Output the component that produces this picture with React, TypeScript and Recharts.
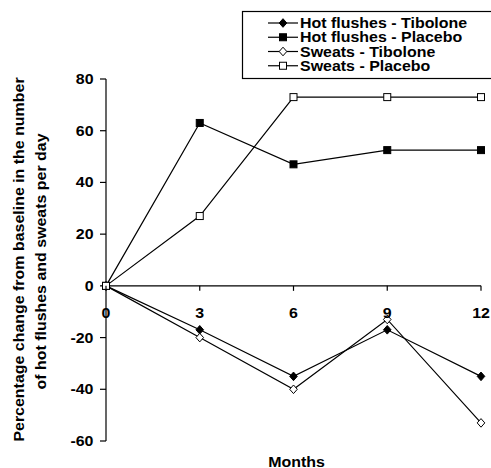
import React from "react";
import { LineChart, Line, XAxis, YAxis, ReferenceLine } from "recharts";

const months = [0, 3, 6, 9, 12];
const hotFlushesTibolone = [0, -17, -35, -17, -35];
const hotFlushesPlacebo = [0, 63, 47, 52.5, 52.5];
const sweatsTibolone = [0, -20, -40, -13, -53];
const sweatsPlacebo = [0, 27, 73, 73, 73];
const yTicks = [-60, -40, -20, 0, 20, 40, 60, 80];

const W = 491;
const H = 468;
const TOP = 79;
const XAXIS_H = 27;
const PLOT_H = H - TOP - XAXIS_H;
const Y_MIN = -60;
const Y_MAX = 80;
const ZERO_Y = TOP + (PLOT_H * Y_MAX) / (Y_MAX - Y_MIN);

// the source figure is Arial bold, stretched sideways a little
const FONT = "'Liberation Sans', Arial, sans-serif";
const FS = 14;
const STRETCH = 1.14;

const series = [
  { key: "hft", name: "Hot flushes - Tibolone", values: hotFlushesTibolone, shape: "diamond", filled: true },
  { key: "hfp", name: "Hot flushes - Placebo", values: hotFlushesPlacebo, shape: "square", filled: true },
  { key: "swt", name: "Sweats - Tibolone", values: sweatsTibolone, shape: "diamond", filled: false },
  { key: "swp", name: "Sweats - Placebo", values: sweatsPlacebo, shape: "square", filled: false },
];

const data = months.map((m, i) => {
  const row: Record<string, number> = { month: m };
  series.forEach((s) => (row[s.key] = s.values[i]));
  return row;
});

function Txt(props: any) {
  const { x, y, rotate = 0, anchor = "start", children } = props;
  return (
    <text
      transform={`translate(${x} ${y}) rotate(${rotate}) scale(${STRETCH} 1)`}
      textAnchor={anchor}
      fontFamily={FONT}
      fontSize={FS}
      fontWeight="bold"
      fill="#000"
    >
      {children}
    </text>
  );
}

function Marker(props: any) {
  const { cx, cy, shape, filled } = props;
  if (cx == null || cy == null) return null;
  const fill = filled ? "#000" : "#fff";
  if (shape === "diamond") {
    const w = 3.8;
    const h = 4.3;
    return (
      <polygon
        points={`${cx},${cy - h} ${cx + w},${cy} ${cx},${cy + h} ${cx - w},${cy}`}
        fill={fill}
        stroke="#000"
        strokeWidth={1}
      />
    );
  }
  const s = 3.5;
  return <rect x={cx - s} y={cy - s} width={s * 2} height={s * 2} fill={fill} stroke="#000" strokeWidth={1} />;
}

function MonthTick(props: any) {
  const { x, payload } = props;
  return (
    <g>
      <line x1={x} x2={x} y1={ZERO_Y} y2={ZERO_Y + 5} stroke="#000" strokeWidth={1.2} />
      <Txt x={x} y={ZERO_Y + 32} anchor="middle">
        {payload.value}
      </Txt>
    </g>
  );
}

function ValueTick(props: any) {
  const { x, y, payload } = props;
  return (
    <Txt x={x} y={y + 5} anchor="end">
      {payload.value}
    </Txt>
  );
}

function YLabel(props: any) {
  const { viewBox } = props;
  const cy = viewBox.y + viewBox.height / 2;
  return (
    <g>
      <Txt x={23.5} y={cy - 0.5} rotate={-90} anchor="middle">
        Percentage change from baseline in the number
      </Txt>
      <Txt x={45.5} y={cy + 1.5} rotate={-90} anchor="middle">
        of hot flushes and sweats per day
      </Txt>
    </g>
  );
}

function XLabel(props: any) {
  const { viewBox } = props;
  return (
    <Txt x={viewBox.x + viewBox.width / 2 + 3} y={viewBox.y + viewBox.height - 1.5} anchor="middle">
      Months
    </Txt>
  );
}

function LegendBox() {
  return (
    <svg width={W} height={90} style={{ position: "absolute", left: 0, top: 0, pointerEvents: "none" }}>
      <rect x={242.5} y={11.5} width={260} height={67} fill="#fff" stroke="#000" strokeWidth={1.2} />
      {series.map((s, i) => {
        const base = 28 + i * 14.25;
        const mid = base - 5;
        return (
          <g key={s.key}>
            <line x1={268} x2={298} y1={mid} y2={mid} stroke="#000" strokeWidth={1.2} />
            <Marker cx={283} cy={mid} shape={s.shape} filled={s.filled} />
            <Txt x={300} y={base}>
              {s.name}
            </Txt>
          </g>
        );
      })}
    </svg>
  );
}

export default function App() {
  return (
    <div style={{ position: "absolute", left: 0, top: 0, width: W, height: H, overflow: "hidden", background: "#fff" }}>
      <LineChart width={W} height={H} data={data} margin={{ top: TOP, right: 10, bottom: 0, left: 0 }}>
        <XAxis
          dataKey="month"
          type="number"
          domain={[0, 12]}
          ticks={months}
          axisLine={false}
          tickLine={false}
          height={XAXIS_H}
          tick={<MonthTick />}
          label={<XLabel />}
        />
        <YAxis
          type="number"
          domain={[Y_MIN, Y_MAX]}
          ticks={yTicks}
          width={106}
          tickSize={6}
          tickMargin={6.5}
          axisLine={{ stroke: "#000", strokeWidth: 1.2 }}
          tickLine={{ stroke: "#000", strokeWidth: 1.2 }}
          tick={<ValueTick />}
          label={<YLabel />}
        />
        <ReferenceLine y={0} stroke="#000" strokeWidth={1.2} />
        {series.map((s) => (
          <Line
            key={s.key}
            dataKey={s.key}
            name={s.name}
            stroke="#000"
            strokeWidth={1.2}
            isAnimationActive={false}
            dot={<Marker shape={s.shape} filled={s.filled} />}
            activeDot={false}
          />
        ))}
      </LineChart>
      <LegendBox />
    </div>
  );
}
